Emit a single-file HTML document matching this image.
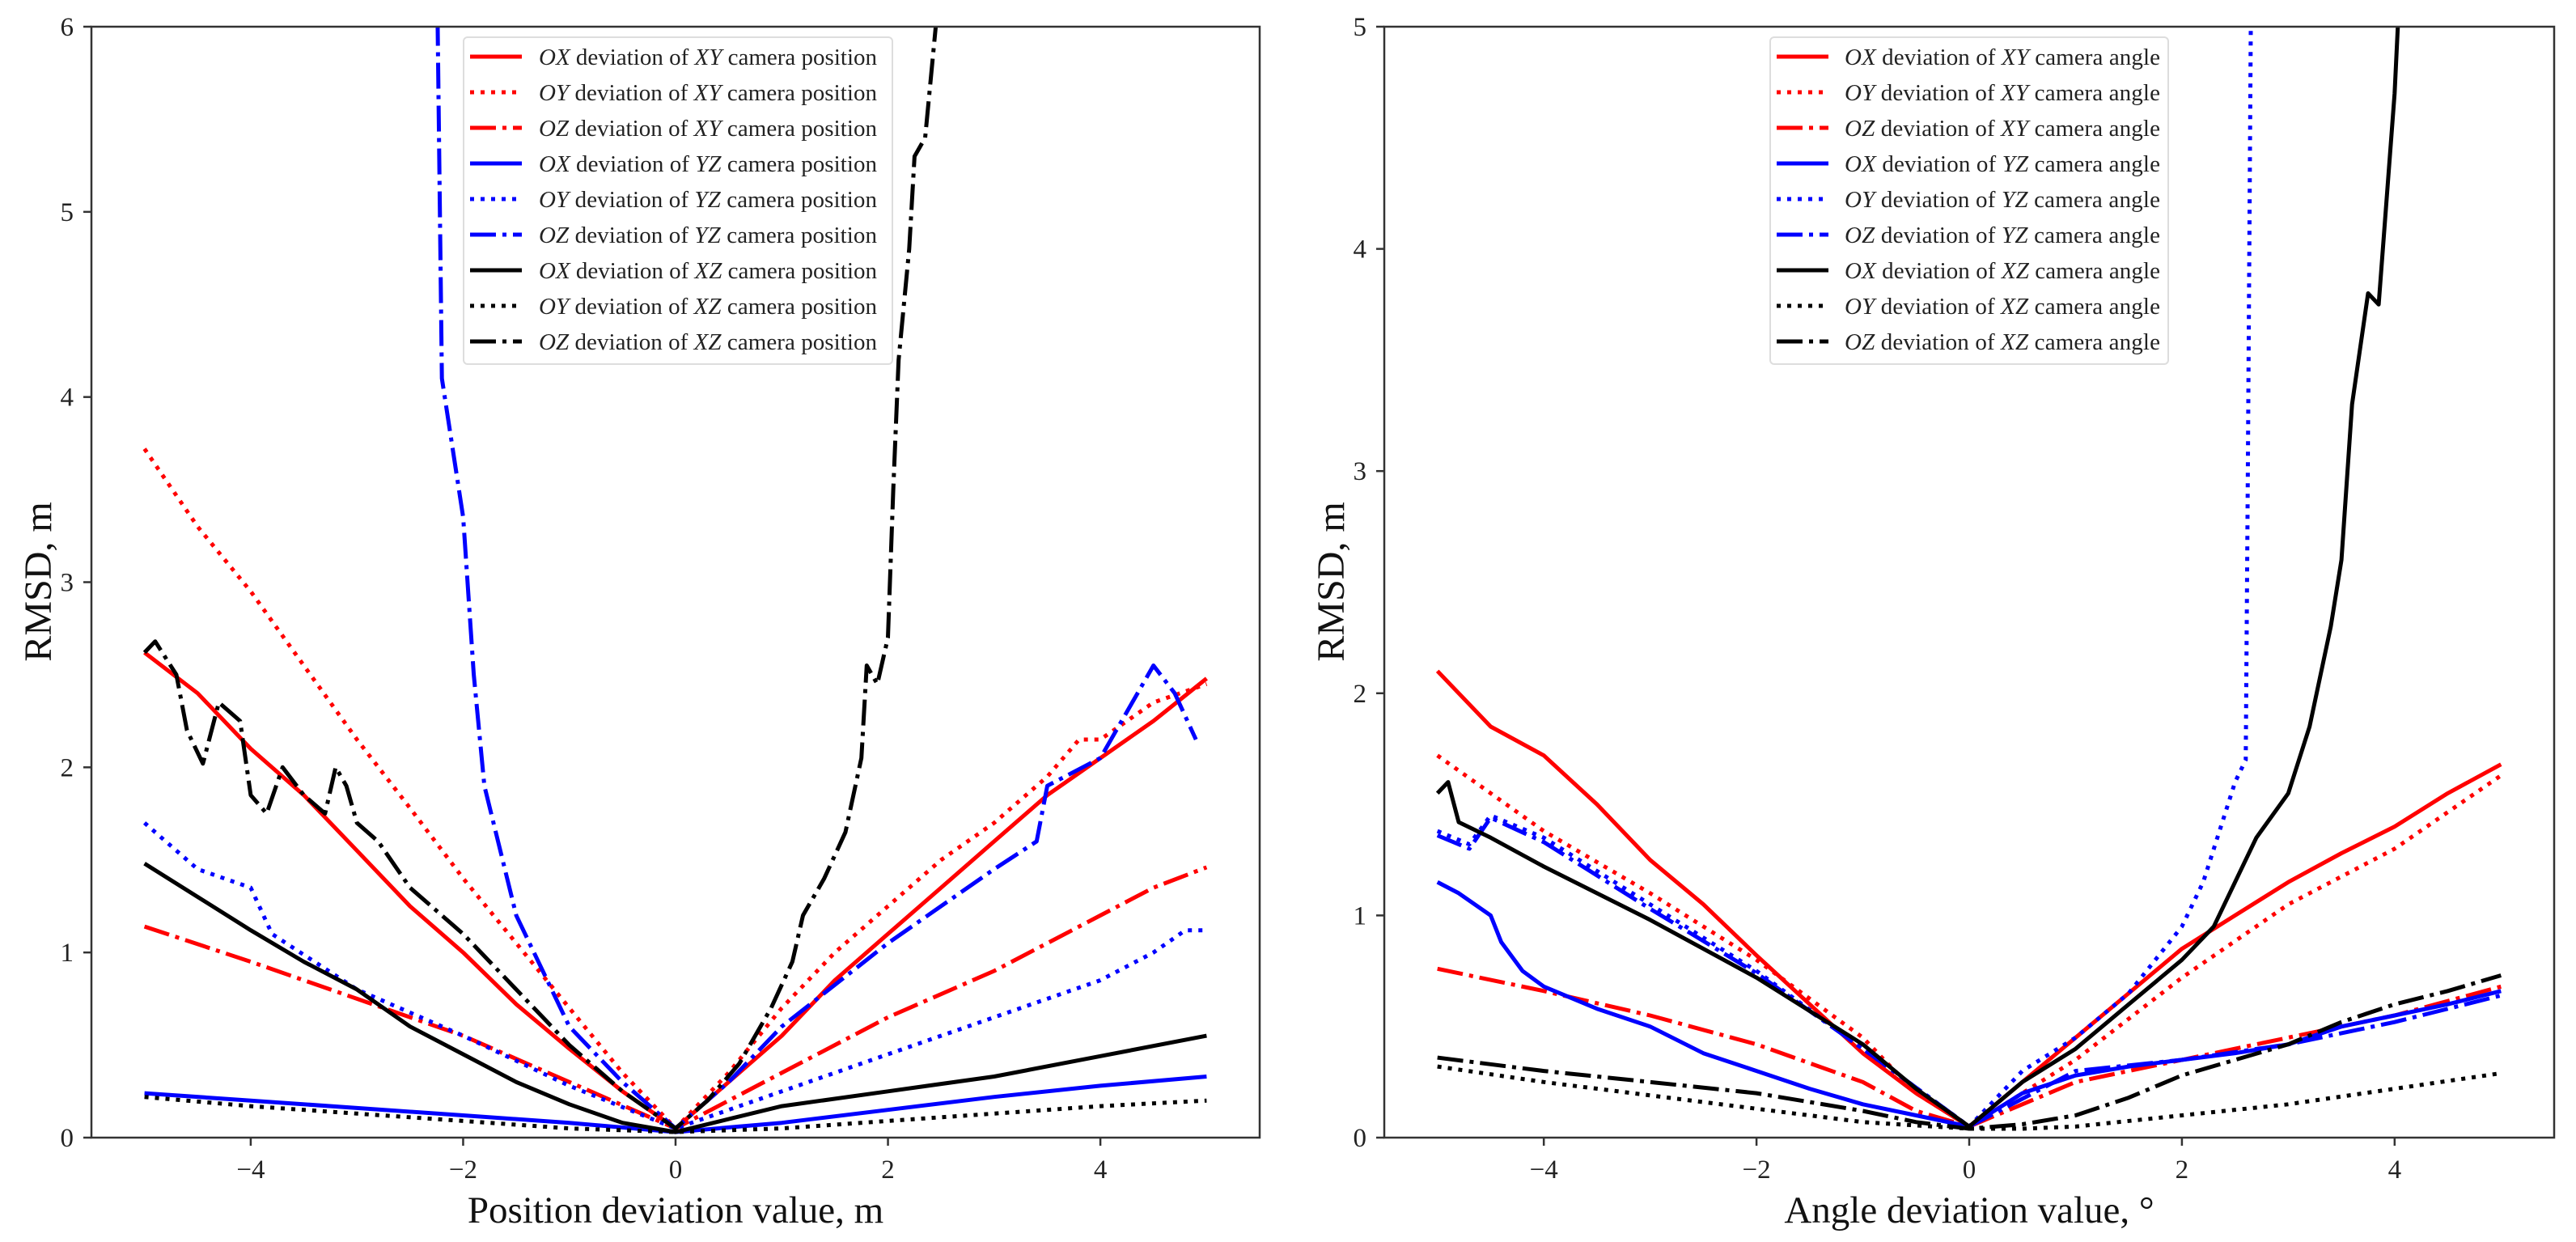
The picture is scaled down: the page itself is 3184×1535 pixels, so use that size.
<!DOCTYPE html>
<html><head><meta charset="utf-8"><style>
body{margin:0;background:#fff}
svg{display:block;font-family:"Liberation Serif",serif}
</style></head><body>
<svg id="fig" width="3184" height="1535" viewBox="0 0 3184 1535" xmlns="http://www.w3.org/2000/svg"></svg>
<script>
// ---------- data: left chart (position deviation) ----------
const posXs = {
 redSolid:[-5,-4.5,-4,-3.5,-3,-2.5,-2,-1.5,-1,-0.5,0,0.5,1,1.5,2,2.5,3,3.5,4,4.5,5],
 redDot:[-5,-4.5,-4,-3.5,-3,-2.5,-2,-1.5,-1,-0.5,0,0.5,1,1.5,2,2.5,3,3.5,3.8,4,4.5,5],
 redDash:[-5,-4,-3,-2,-1,0,1,2,3,4,4.5,5],
 blueSolid:[-5,-4,-3,-2,-1,0,1,2,3,4,5],
 blueDot:[-5,-4.8,-4.5,-4,-3.8,-3,-2,-1,0,1,2,3,4,4.5,4.8,5],
 blueDash:[-2.25,-2.2,-2.0,-1.9,-1.8,-1.5,-1,-0.5,0,0.5,1,2,3,3.4,3.5,4,4.5,4.7,4.9],
 blackSolid:[-5,-4.5,-4,-3.5,-3,-2.5,-2,-1.5,-1,-0.5,0,0.5,1,2,3,4,5],
 blackDot:[-5,-4,-3,-2,-1,0,1,2,3,4,5],
 blackDash:[-5,-4.9,-4.7,-4.6,-4.45,-4.3,-4.1,-4.0,-3.85,-3.7,-3.5,-3.3,-3.2,-3.1,-3.0,-2.8,-2.5,-2,-1.5,-1,-0.5,0,0.3,0.6,0.9,1.1,1.2,1.4,1.6,1.75,1.8,1.9,2.0,2.05,2.1,2.2,2.25,2.35,2.45,2.5]
};
const posYs = {
 redSolid:[2.62,2.4,2.1,1.85,1.55,1.25,1.0,0.72,0.48,0.25,0.05,0.3,0.55,0.85,1.1,1.35,1.6,1.85,2.05,2.25,2.48],
 redDot:[3.72,3.3,2.95,2.55,2.15,1.78,1.4,1.05,0.7,0.35,0.05,0.35,0.7,1.0,1.25,1.5,1.7,1.95,2.15,2.15,2.35,2.45],
 redDash:[1.14,0.95,0.75,0.55,0.3,0.05,0.35,0.65,0.9,1.2,1.35,1.46],
 blueSolid:[0.24,0.2,0.16,0.12,0.08,0.03,0.08,0.15,0.22,0.28,0.33],
 blueDot:[1.7,1.6,1.45,1.35,1.1,0.8,0.55,0.28,0.05,0.25,0.45,0.65,0.85,1.0,1.12,1.12],
 blueDash:[6.5,4.1,3.35,2.5,1.9,1.2,0.6,0.3,0.05,0.3,0.6,1.05,1.45,1.6,1.9,2.05,2.55,2.4,2.15],
 blackSolid:[1.48,1.3,1.12,0.95,0.8,0.6,0.45,0.3,0.18,0.08,0.03,0.1,0.17,0.25,0.33,0.44,0.55],
 blackDot:[0.22,0.17,0.13,0.09,0.05,0.03,0.05,0.09,0.13,0.17,0.2],
 blackDash:[2.62,2.68,2.5,2.2,2.02,2.35,2.25,1.85,1.75,2.0,1.85,1.75,2.0,1.9,1.7,1.6,1.35,1.1,0.8,0.5,0.25,0.05,0.2,0.4,0.7,0.95,1.2,1.4,1.65,2.05,2.55,2.45,2.7,3.5,4.2,4.8,5.3,5.4,6.0,6.5]
};
// ---------- data: right chart (angle deviation) ----------
const angXs = {
 redSolid:[-5,-4.5,-4,-3.5,-3,-2.5,-2,-1.5,-1,-0.5,0,0.5,1,1.5,2,2.5,3,3.5,4,4.5,5],
 redDot:[-5,-4.5,-4,-3,-2,-1,-0.5,0,1,2,3,4,5],
 redDash:[-5,-4,-3,-2,-1,-0.5,0,0.5,1,2,3,4,5],
 blueSolid:[-5,-4.8,-4.5,-4.4,-4.2,-4,-3.5,-3,-2.5,-2,-1.5,-1,-0.5,0,0.5,1,1.5,2,2.5,3,3.5,4,4.5,5],
 blueDot:[-5,-4.7,-4.5,-4,-3,-2,-1,0,0.5,1,1.5,2,2.2,2.4,2.5,2.6,2.62,2.65],
 blueDash:[-5,-4.7,-4.5,-4,-3,-2,-1,0,1,2,3,4,5],
 blackSolid:[-5,-4.9,-4.8,-4.5,-4,-3,-2,-1,-0.5,0,0.5,1,1.5,2,2.3,2.5,2.7,3,3.2,3.4,3.5,3.6,3.75,3.85,4.0,4.05],
 blackDot:[-5,-4,-3,-2,-1,0,0.5,1,2,3,4,5],
 blackDash:[-5,-4,-3,-2,-1,-0.5,0,0.5,1,1.5,2,3,3.5,4,4.5,5]
};
const angYs = {
 redSolid:[2.1,1.85,1.72,1.5,1.25,1.05,0.82,0.6,0.38,0.2,0.05,0.25,0.45,0.65,0.85,1.0,1.15,1.28,1.4,1.55,1.68],
 redDot:[1.72,1.55,1.38,1.1,0.8,0.45,0.2,0.05,0.35,0.72,1.05,1.3,1.63],
 redDash:[0.76,0.66,0.55,0.42,0.25,0.12,0.05,0.15,0.25,0.35,0.45,0.55,0.68],
 blueSolid:[1.15,1.1,1.0,0.88,0.75,0.68,0.58,0.5,0.38,0.3,0.22,0.15,0.1,0.05,0.2,0.28,0.32,0.35,0.38,0.42,0.5,0.55,0.6,0.66],
 blueDot:[1.38,1.32,1.45,1.35,1.05,0.75,0.4,0.05,0.3,0.45,0.65,0.95,1.15,1.45,1.6,1.7,3.0,5.2],
 blueDash:[1.36,1.3,1.44,1.33,1.03,0.74,0.4,0.05,0.3,0.35,0.42,0.52,0.64],
 blackSolid:[1.55,1.6,1.42,1.35,1.22,0.98,0.72,0.42,0.22,0.05,0.25,0.4,0.6,0.8,0.95,1.15,1.35,1.55,1.85,2.3,2.6,3.3,3.8,3.75,4.7,5.2],
 blackDot:[0.32,0.25,0.19,0.13,0.07,0.04,0.04,0.05,0.1,0.15,0.22,0.29],
 blackDash:[0.36,0.3,0.25,0.2,0.12,0.07,0.04,0.06,0.1,0.18,0.28,0.42,0.52,0.6,0.66,0.73]
};
const seriesKeys=['redSolid','redDot','redDash','blueSolid','blueDot','blueDash','blackSolid','blackDot','blackDash'];
const posLabels=[['OX','XY'],['OY','XY'],['OZ','XY'],['OX','YZ'],['OY','YZ'],['OZ','YZ'],['OX','XZ'],['OY','XZ'],['OZ','XZ']];
const xTicks=[-4,-2,0,2,4];
const yTicksL=[0,1,2,3,4,5,6];
const yTicksR=[0,1,2,3,4,5];

const NS='http://www.w3.org/2000/svg';
const fig=document.getElementById('fig');
function mk(tag,attrs,parent){const e=document.createElementNS(NS,tag);for(const k in attrs)e.setAttribute(k,attrs[k]);(parent||fig).appendChild(e);return e;}
const colorOf=k=>k.startsWith('red')?'#ff0000':k.startsWith('blue')?'#0000ff':'#000000';
const dashOf=k=>k.endsWith('Dot')?'5 8':k.endsWith('Dash')?'32 8 5 8':'none';

function drawChart(id,L,R,ymax,xs,ys,xlabel,legendX,legendTextX,word){
  const T=33,B=1406;
  const sx=v=>L+(v+5.5)/11*(R-L);
  const sy=v=>B-v/ymax*(B-T);
  const g=mk('g',{});
  
  
  const clip=mk('clipPath',{id:id+'clip'},g);
  mk('rect',{x:L,y:T,width:R-L,height:B-T},clip);
  const lines=mk('g',{'clip-path':'url(#'+id+'clip)'},g);
  seriesKeys.forEach(k=>{
    const p=xs[k].map((x,i)=>(i?'L':'M')+sx(x).toFixed(1)+','+sy(ys[k][i]).toFixed(1)).join('');
    const e=mk('path',{d:p,fill:'none',stroke:colorOf(k),'stroke-width':5,'stroke-dasharray':dashOf(k),'stroke-linejoin':'round'},lines);
    
    
  });
  const frame=mk('rect',{x:L,y:T,width:R-L,height:B-T,fill:'none',stroke:'#333',"stroke-width":2.5},g);
  
  
  xTicks.forEach(t=>{
    mk('line',{x1:sx(t),x2:sx(t),y1:B,y2:B+10,stroke:'#333','stroke-width':2.5},g);
    const tx=mk('text',{x:sx(t),y:B+50,'font-size':33,'text-anchor':'middle',fill:'#222'},g);
    tx.textContent=t<0?'\u2212'+(-t):String(t);
    
    
  });
  (ymax===6?yTicksL:yTicksR).forEach(t=>{
    mk('line',{x1:L-10,x2:L,y1:sy(t),y2:sy(t),stroke:'#333','stroke-width':2.5},g);
    const tx=mk('text',{x:L-22,y:sy(t)+11,'font-size':33,'text-anchor':'end',fill:'#222'},g);
    tx.textContent=String(t);
    
    
  });
  const xl=mk('text',{x:(L+R)/2,y:1511,'font-size':47,'text-anchor':'middle',fill:'#111'},g);
  xl.textContent=xlabel;
  
  
  const yl=mk('text',{x:0,y:0,'font-size':48,'text-anchor':'middle',fill:'#111',transform:'translate('+(L-50)+',719) rotate(-90)'},g);
  yl.textContent='RMSD, m';
  
  
  // legend
  const lg=mk('g',{},g);
  
  
  const boxW=word==='position'?530:492;
  mk('rect',{x:legendX,y:46,width:boxW,height:404,rx:5,fill:'#fff','fill-opacity':0.85,stroke:'#ddd','stroke-width':2},lg);
  seriesKeys.forEach((k,i)=>{
    const yy=70+i*44;
    const ent=mk('g',{},lg);
    
    
    mk('line',{x1:legendX+8,x2:legendX+72,y1:yy,y2:yy,stroke:colorOf(k),'stroke-width':5,'stroke-dasharray':dashOf(k)},ent);
    const t=mk('text',{x:legendTextX,y:yy+10,'font-size':29,fill:'#222'},ent);
    t.setAttribute('textLength',word==='angle'?390:418);
    const a=mk('tspan',{'font-style':'italic'},t);a.textContent=posLabels[i][0];
    const b=mk('tspan',{},t);b.textContent=' deviation of ';
    const c=mk('tspan',{'font-style':'italic'},t);c.textContent=posLabels[i][1];
    const d=mk('tspan',{},t);d.textContent=' camera '+word;
  });
}
drawChart('position-plot',113,1557,6,posXs,posYs,'Position deviation value, m',573,666,'position');
drawChart('angle-plot',1711,3157,5,angXs,angYs,'Angle deviation value, \u00b0',2188,2280,'angle');
</script>
</body></html>
